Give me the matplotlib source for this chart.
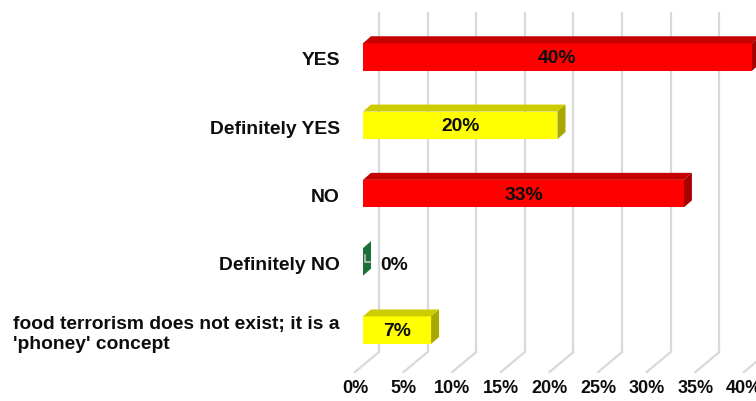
import matplotlib
matplotlib.use("Agg")
import matplotlib.pyplot as plt
from matplotlib.patches import Polygon

categories = ["YES", "Definitely YES", "NO", "Definitely NO",
              "food terrorism does not exist; it is a\n'phoney' concept"]
values = [40, 20, 33, 0, 7]
value_labels = ["40%", "20%", "33%", "0%", "7%"]
bar_colors = ["red", "yellow", "red", "green", "yellow"]
ticks = [0, 5, 10, 15, 20, 25, 30, 35, 40]
tick_labels = ["0%", "5%", "10%", "15%", "20%", "25%", "30%", "35%", "40%"]

palette = {
    "red": ("#FF0000", "#C40000", "#A80000"),
    "yellow": ("#FFFF00", "#CCCC00", "#A8A800"),
    "green": ("#2E9A50", "#1F7A3A", "#1A7036"),
}

W, H = 756, 401
fig = plt.figure(figsize=(W / 100, H / 100), dpi=100)
ax = fig.add_axes([0, 0, 1, 1])
px_per_pct = 9.725
x0_px = 363
ax.set_xlim(-x0_px / px_per_pct, (W - x0_px) / px_per_pct)
y0_px, step_px = 57, 68.3
ax.set_ylim((H - y0_px) / step_px, -y0_px / step_px)
ax.axis("off")

def px2dx(p):
    return p / px_per_pct

def px2dy(p):
    return p / step_px

FONT = "Liberation Sans"
TXT = "#0d0d0d"

# gridlines: back wall verticals + floor diagonals
back_dx, back_dy = px2dx(16), px2dy(-13)
front_dx, front_dy = px2dx(-8), px2dy(7)
y_floor_mid = px2dy(365 - y0_px)
y_top = px2dy(12 - y0_px)
grid_c = "#D9D9D9"
for t in ticks:
    xb = t + back_dx
    ax.plot([xb, xb], [y_top, y_floor_mid + back_dy], color=grid_c, lw=1.6, zorder=1,
            solid_capstyle="butt")
    ax.plot([xb, t + front_dx], [y_floor_mid + back_dy, y_floor_mid + front_dy],
            color=grid_c, lw=1.6, zorder=1)

# 3D bars
bh = px2dy(27.5) / 2
ddx, ddy = px2dx(8), px2dy(-7)
for i, (v, c) in enumerate(zip(values, bar_colors)):
    front, top, side = palette[c]
    yt, yb = i - bh, i + bh
    if v > 0:
        ax.add_patch(Polygon([(0, yb), (0, yt), (v, yt), (v, yb)], closed=True,
                             fc=front, ec="none", zorder=3))
        ax.add_patch(Polygon([(0, yt), (ddx, yt + ddy), (v + ddx, yt + ddy), (v, yt)],
                             closed=True, fc=top, ec="none", zorder=3))
    ax.add_patch(Polygon([(v, yt), (v + ddx, yt + ddy), (v + ddx, yb + ddy), (v, yb)],
                         closed=True, fc=side, ec="none", zorder=3))

# value labels
for i, (v, lab) in enumerate(zip(values, value_labels)):
    if v > 0:
        ax.text(v / 2, i + px2dy(1.5), lab, ha="center", va="center", fontsize=13.9,
                fontweight="bold", family=FONT, color=TXT, zorder=5)
    else:
        ax.plot([px2dx(2.5), px2dx(2.5), px2dx(7)], [i - px2dy(7), i, i],
                color="#BFBFBF", lw=1.2, zorder=4)
        ax.text(px2dx(17), i + px2dy(3.5), lab, ha="left", va="center", fontsize=13.9,
                fontweight="bold", family=FONT, color=TXT, zorder=5)

# category labels
for i, cat in enumerate(categories):
    ax.text(px2dx(-23), i + px2dy(4), cat, ha="right", va="center", ma="left",
            fontsize=13.9, fontweight="bold", family=FONT, color=TXT,
            linespacing=1.25)

# tick labels
y_tick = px2dy(388.5 - y0_px)
for t, lab in zip(ticks, tick_labels):
    ax.text(t + front_dx, y_tick, lab, ha="center", va="center", fontsize=13,
            fontweight="bold", family=FONT, color=TXT)

fig.savefig("out.png", dpi=100)
